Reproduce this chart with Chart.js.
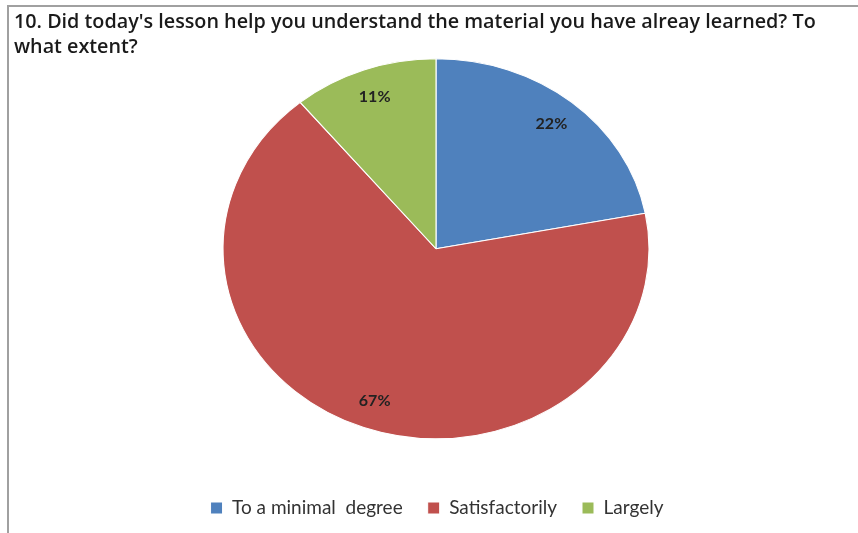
<!DOCTYPE html>
<html lang="en">
<head>
    <meta charset="UTF-8">
    <title>Question 10 - lesson survey</title>
    <style>
        html, body { margin: 0; padding: 0; background: #fff; }
        .wrap { position: relative; width: 858px; height: 533px; overflow: hidden; }
        /* grey frame round the chart, open on the right and bottom */
        .frame {
            position: absolute; left: 7px; top: 5px; right: -10px; bottom: -10px;
            border-top: 2px solid #a0a0a0; border-left: 2px solid #a0a0a0;
        }
        canvas { position: absolute; left: 0; top: 0; }
    </style>
    <script src="https://cdn.jsdelivr.net/npm/chart.js"></script>
</head>
<body>
    <div class="wrap">
        <div class="frame"></div>
        <canvas id="pieChart" width="858" height="533"></canvas>
    </div>

    <script>
        // Chart data
        const titleLines = [
            "10. Did today's lesson help you understand the material you have alreay learned? To",
            "what extent?"
        ];
        const categories = ['To a minimal  degree', 'Satisfactorily', 'Largely'];
        const shares = [22, 67, 11];
        const sliceColors = ['#4F81BD', '#C0504D', '#9BBB59'];

        // the original pie is a little wider than it is tall
        const stretchX = 213 / 190;
        const labelSpot = 0.85;

        const ellipsePie = {
            id: 'ellipsePie',
            beforeDatasetsDraw(chart) {
                const arc = chart.getDatasetMeta(0).data[0];
                const ctx = chart.ctx;
                ctx.save();
                ctx.translate(arc.x, arc.y);
                ctx.scale(stretchX, 1);
                ctx.translate(-arc.x, -arc.y);
            },
            afterDatasetsDraw(chart) {
                const ctx = chart.ctx;
                ctx.restore();
                ctx.save();
                ctx.font = 'bold 16px Lato';
                ctx.fillStyle = '#222';
                ctx.textAlign = 'center';
                ctx.textBaseline = 'middle';
                chart.getDatasetMeta(0).data.forEach((arc, i) => {
                    const mid = (arc.startAngle + arc.endAngle) / 2;
                    const r = arc.outerRadius * labelSpot;
                    ctx.fillText(shares[i] + '%', arc.x + Math.cos(mid) * r * stretchX, arc.y + Math.sin(mid) * r);
                });
                ctx.restore();
            }
        };

        new Chart(document.getElementById('pieChart').getContext('2d'), {
            type: 'pie',
            data: {
                labels: categories,
                datasets: [{
                    data: shares,
                    backgroundColor: sliceColors,
                    borderColor: '#fff',
                    borderWidth: 1,
                    radius: 190
                }]
            },
            options: {
                responsive: false,
                animation: false,
                devicePixelRatio: 1,
                layout: { padding: { left: 14, right: -2, top: 0, bottom: 5.5 } },
                plugins: {
                    title: {
                        display: true,
                        text: titleLines,
                        align: 'start',
                        color: '#1a1a1a',
                        font: { family: 'Open Sans', size: 19.75, weight: '600', lineHeight: '25px' },
                        padding: { top: 9.5, bottom: 0 }
                    },
                    legend: {
                        position: 'bottom',
                        title: {
                            display: true,
                            text: '',
                            font: { size: 10, lineHeight: 1 },
                            padding: { top: 12.75, bottom: 12.75 }
                        },
                        labels: {
                            boxWidth: 12,
                            boxHeight: 12,
                            padding: 25,
                            color: '#333',
                            font: { family: 'Lato', size: 19 }
                        }
                    },
                    tooltip: { enabled: false }
                }
            },
            plugins: [ellipsePie]
        });
    </script>
</body>
</html>
